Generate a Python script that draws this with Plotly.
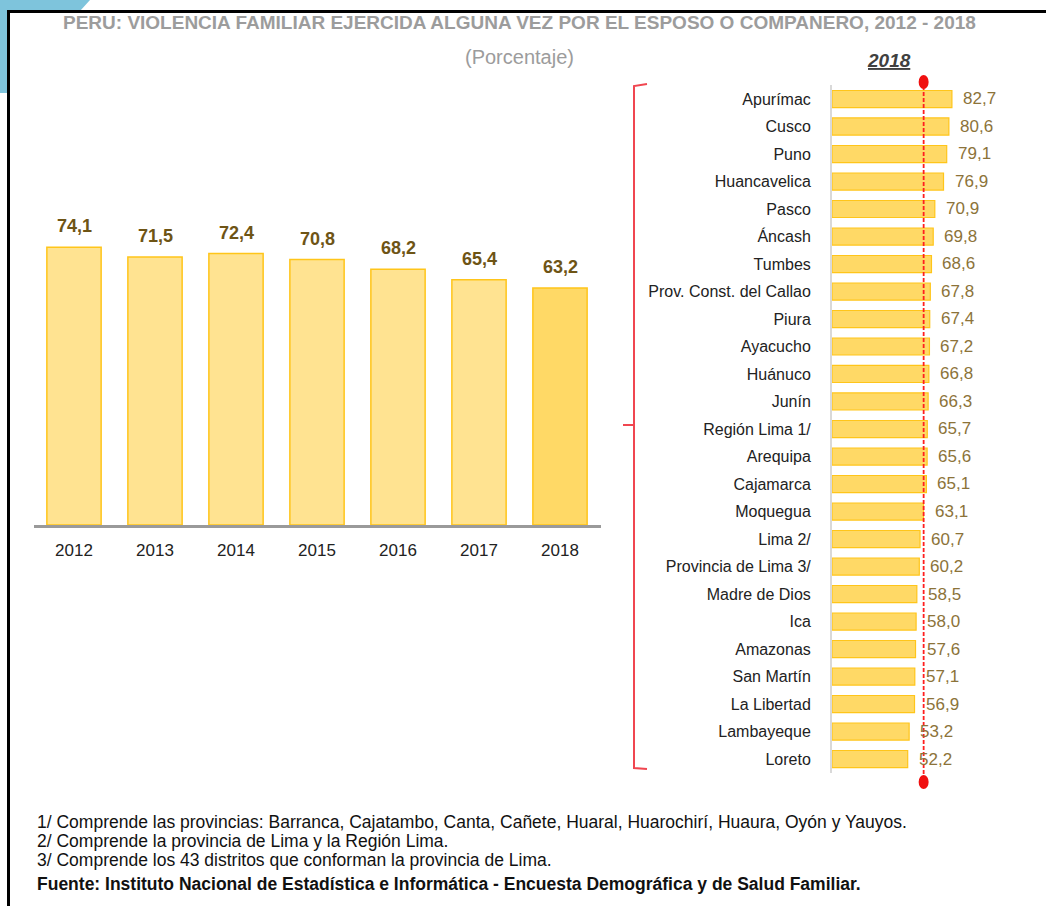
import plotly.graph_objects as go

W, H = 1046, 906

years = ["2012", "2013", "2014", "2015", "2016", "2017", "2018"]
national = [74.1, 71.5, 72.4, 70.8, 68.2, 65.4, 63.2]

regions = ["Apurímac", "Cusco", "Puno", "Huancavelica", "Pasco", "Áncash", "Tumbes",
           "Prov. Const. del Callao", "Piura", "Ayacucho", "Huánuco", "Junín",
           "Región Lima 1/", "Arequipa", "Cajamarca", "Moquegua", "Lima 2/",
           "Provincia de Lima 3/", "Madre de Dios", "Ica", "Amazonas", "San Martín",
           "La Libertad", "Lambayeque", "Loreto"]
region_vals = [82.7, 80.6, 79.1, 76.9, 70.9, 69.8, 68.6, 67.8, 67.4, 67.2, 66.8, 66.3,
               65.7, 65.6, 65.1, 63.1, 60.7, 60.2, 58.5, 58.0, 57.6, 57.1, 56.9, 53.2, 52.2]

national_2018 = national[-1]

title = "PERU: VIOLENCIA FAMILIAR EJERCIDA ALGUNA VEZ POR EL ESPOSO O COMPANERO, 2012 - 2018"
subtitle = "(Porcentaje)"
footnotes = [
    "1/ Comprende las provincias: Barranca, Cajatambo, Canta, Cañete, Huaral, Huarochirí, Huaura, Oyón y Yauyos.",
    "2/ Comprende la provincia de Lima y la Región Lima.",
    "3/ Comprende los 43 distritos que conforman la provincia de Lima.",
]
source = "Fuente: Instituto Nacional de Estadística e Informática - Encuesta Demográfica y de Salud Familiar."

FONT = "Liberation Sans, Arial, sans-serif"


def fmt(v):
    return f"{v:.1f}".replace(".", ",")


def px(x):
    return x / W


def py(y):
    return 1 - y / H


fig = go.Figure()

bar_fill = ["#FFE391"] * (len(years) - 1) + ["#FFD966"]
fig.add_trace(go.Bar(
    x=years, y=national, xaxis="x", yaxis="y", width=0.67,
    marker=dict(color=bar_fill, line=dict(color="#FFC51A", width=1.5)),
    hoverinfo="x+y", showlegend=False,
))

fig.add_trace(go.Bar(
    x=region_vals, y=regions, orientation="h", xaxis="x2", yaxis="y2", width=0.62,
    marker=dict(color="#FFD966", line=dict(color="#FFC51A", width=1.2)),
    hoverinfo="x+y", showlegend=False,
))

annotations = []
for i, v in enumerate(national):
    annotations.append(dict(
        x=i, y=v, xref="x", yref="y", text=f"<b>{fmt(v)}</b>", showarrow=False,
        yanchor="bottom", yshift=9,
        font=dict(family=FONT, size=18, color="#6E5415"),
    ))
for r, v in zip(regions, region_vals):
    annotations.append(dict(
        x=v, y=r, xref="x2", yref="y2", text=fmt(v), showarrow=False,
        xanchor="left", xshift=9,
        font=dict(family=FONT, size=17, color="#8C7339"),
    ))

annotations.append(dict(
    x=px(519), y=py(22), xref="paper", yref="paper", text=f"<b>{title}</b>",
    showarrow=False, xanchor="center", yanchor="middle",
    font=dict(family=FONT, size=19, color="#9C9C9C"),
))
annotations.append(dict(
    x=px(519), y=py(57), xref="paper", yref="paper", text=subtitle,
    showarrow=False, xanchor="center", yanchor="middle",
    font=dict(family=FONT, size=20, color="#9C9C9C"),
))
annotations.append(dict(
    x=px(889), y=py(60), xref="paper", yref="paper", text="<b><i><u>2018</u></i></b>",
    showarrow=False, xanchor="center", yanchor="middle",
    font=dict(family=FONT, size=19, color="#404040"),
))
for i, t in enumerate(footnotes):
    annotations.append(dict(
        x=px(35), y=py(822 + 19 * i), xref="paper", yref="paper", text=t,
        showarrow=False, xanchor="left", yanchor="middle",
        font=dict(family=FONT, size=17.5, color="#111111"),
    ))
annotations.append(dict(
    x=px(35), y=py(884), xref="paper", yref="paper", text=f"<b>{source}</b>",
    showarrow=False, xanchor="left", yanchor="middle",
    font=dict(family=FONT, size=17.5, color="#111111"),
))

shapes = []
# light-blue corner
shapes.append(dict(
    type="path", xref="paper", yref="paper",
    path=(f"M {px(0)},{py(0)} L {px(90)},{py(0)} L {px(80)},{py(11)} L {px(8)},{py(11)} "
          f"L {px(8)},{py(93)} L {px(0)},{py(93)} Z"),
    fillcolor="#7EC4DC", line=dict(width=0), layer="above",
))
# black frame (top and left edges)
shapes.append(dict(type="rect", xref="paper", yref="paper",
                   x0=px(8.5), x1=px(W + 20), y0=py(H + 20), y1=py(11.5),
                   fillcolor="rgba(0,0,0,0)", line=dict(color="#000000", width=3),
                   layer="above"))
# red bracket
shapes.append(dict(
    type="path", xref="paper", yref="paper",
    path=(f"M {px(647)},{py(84)} L {px(634)},{py(86)} L {px(634)},{py(768)} L {px(647)},{py(769)}"),
    line=dict(color="#F04650", width=2),
))
shapes.append(dict(type="line", xref="paper", yref="paper",
                   x0=px(623), x1=px(634), y0=py(425), y1=py(425),
                   line=dict(color="#F04650", width=2)))
# national reference line 2018
shapes.append(dict(type="line", xref="x2", yref="paper",
                   x0=national_2018, x1=national_2018, y0=py(80), y1=py(783),
                   line=dict(color="#FF1F1F", width=1.8, dash="4px,2px")))
for yc in (82, 782):
    shapes.append(dict(type="circle", xref="x2", yref="paper",
                       xsizemode="pixel", ysizemode="pixel",
                       xanchor=national_2018, yanchor=py(yc),
                       x0=-5, x1=5, y0=-7, y1=7,
                       fillcolor="#F01010", line=dict(width=0)))

fig.update_layout(
    width=W, height=H, autosize=False,
    margin=dict(l=0, r=0, t=0, b=0, pad=0),
    paper_bgcolor="white", plot_bgcolor="white",
    xaxis=dict(domain=[px(33.5), px(600.5)], type="category", range=[-0.5, 6.5],
               showgrid=False, showline=True, linecolor="#9A9A9A", linewidth=2.5,
               ticks="", tickfont=dict(family=FONT, size=17, color="#222222"),
               ticklabelstandoff=8, fixedrange=True, automargin=False),
    yaxis=dict(domain=[py(525), py(225)], range=[0, 80], showgrid=False,
               showticklabels=False, zeroline=False, showline=False, fixedrange=True,
               automargin=False),
    xaxis2=dict(domain=[px(832), px(962.5)], range=[0, 90], showgrid=False,
                showticklabels=False, zeroline=False, showline=False, anchor="y2",
                fixedrange=True, automargin=False),
    yaxis2=dict(domain=[py(772.75), py(85.25)], type="category", range=[24.5, -0.5],
                showgrid=False, showline=True, linecolor="#D9D9D9", linewidth=2,
                ticks="", ticklabelstandoff=16, anchor="x2", automargin=False,
                tickfont=dict(family=FONT, size=16, color="#222222"), fixedrange=True),
    annotations=annotations,
    shapes=shapes,
)

fig.write_html("out.html", config={"displayModeBar": False},
               post_script="document.body.style.margin='0';document.body.style.padding='0';")
